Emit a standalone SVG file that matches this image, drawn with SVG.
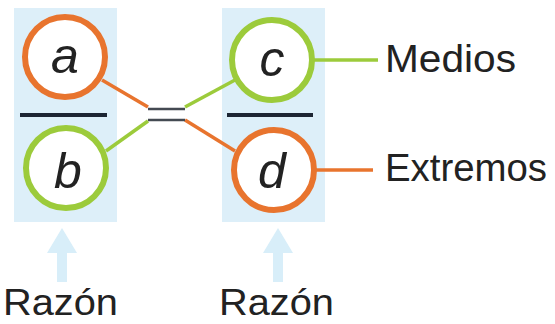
<svg xmlns="http://www.w3.org/2000/svg" width="555" height="324" viewBox="0 0 555 324">
<style>
.panel{fill:#ddeff9}
.circ{fill:#ffffff;stroke-width:6}
.or{stroke:#e8742e}
.gr{stroke:#9ccb3b}
.var{font-family:"Liberation Sans",Arial,sans-serif;font-style:italic;font-size:50px;fill:#222;text-anchor:middle}
.lbl{font-family:"Liberation Sans",Arial,sans-serif;font-size:38px;fill:#222}
.rz{font-family:"Liberation Sans",Arial,sans-serif;font-size:37px;fill:#222}
.bar{stroke:#1c2533;stroke-width:4}
.eq{stroke:#444a52;stroke-width:2.5}
.conn{stroke-width:3.5;fill:none}
.arrow{fill:#d8eef9}
</style>
<rect class="panel" x="14" y="8" width="103" height="214"/>
<rect class="panel" x="222" y="8" width="103" height="214"/>
<g id="connectors">
<line class="conn or" x1="102" y1="80" x2="148" y2="107"/>
<line class="conn or" x1="185" y1="120" x2="235" y2="151"/>
<line class="conn gr" x1="106" y1="151" x2="148" y2="121"/>
<line class="conn gr" x1="185" y1="107" x2="235" y2="80"/>
<line class="conn gr" x1="314" y1="60" x2="378" y2="60"/>
<line class="conn or" x1="316" y1="170" x2="373" y2="170"/>
</g>
<g id="equals">
<line class="eq" x1="148" y1="109" x2="185" y2="109"/>
<line class="eq" x1="148" y1="120" x2="185" y2="120"/>
</g>
<line class="bar" x1="20" y1="115" x2="107" y2="115"/>
<line class="bar" x1="227" y1="115" x2="313" y2="115"/>
<g id="node-a"><circle class="circ or" cx="65" cy="57" r="40"/><text class="var" x="65" y="73">a</text></g>
<g id="node-b"><circle class="circ gr" cx="66" cy="168" r="40"/><text class="var" x="68" y="188">b</text></g>
<g id="node-c"><circle class="circ gr" cx="272" cy="60" r="40"/><text class="var" x="272" y="76">c</text></g>
<g id="node-d"><circle class="circ or" cx="274" cy="170" r="40"/><text class="var" x="272" y="188">d</text></g>
<g id="label-medios"><text class="lbl" x="385" y="72" textLength="131" lengthAdjust="spacingAndGlyphs">Medios</text></g>
<g id="label-extremos"><text class="lbl" x="385" y="181" textLength="162" lengthAdjust="spacingAndGlyphs">Extremos</text></g>
<g id="razon-left">
<path class="arrow" d="M62 228 L77 253 L67 253 L67 282 L57 282 L57 253 L47 253 Z"/>
<text class="rz" x="3" y="315" textLength="115" lengthAdjust="spacingAndGlyphs">Razón</text>
</g>
<g id="razon-right">
<path class="arrow" d="M278 228 L293 253 L283 253 L283 282 L273 282 L273 253 L263 253 Z"/>
<text class="rz" x="219" y="315" textLength="115" lengthAdjust="spacingAndGlyphs">Razón</text>
</g>
</svg>
